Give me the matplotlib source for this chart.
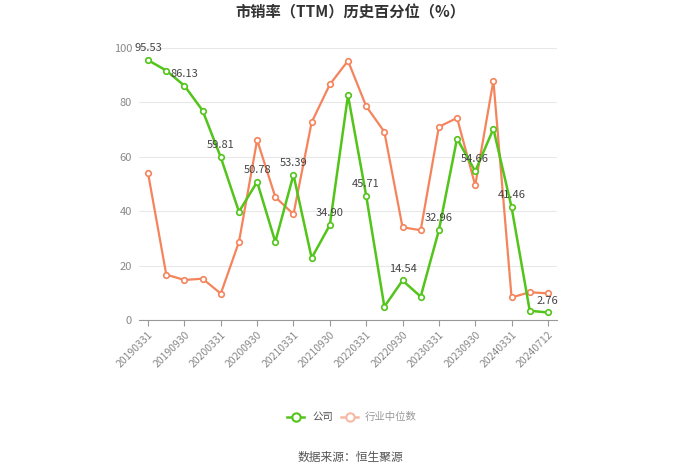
import numpy as np
import matplotlib.pyplot as plt

plt.rcParams['font.family'] = ['Noto Sans CJK SC', 'DejaVu Sans']

dates = ['20190331', '20190630', '20190930', '20191231', '20200331', '20200630',
         '20200930', '20201231', '20210331', '20210630', '20210930', '20211231',
         '20220331', '20220630', '20220930', '20221231', '20230331', '20230630',
         '20230930', '20231231', '20240331', '20240630', '20240712']

company = [95.53, 91.7, 86.13, 77.0, 59.81, 39.8, 50.78, 28.7, 53.39, 22.8,
           34.90, 82.6, 45.71, 4.9, 14.54, 8.6, 32.96, 66.7, 54.66, 70.3,
           41.46, 3.4, 2.76]
industry = [53.9, 16.7, 14.7, 15.2, 9.7, 28.7, 66.2, 45.2, 38.9, 72.7,
            86.6, 95.3, 78.6, 69.2, 34.1, 33.0, 71.0, 74.3, 49.5, 88.0,
            8.3, 10.2, 9.8]

green = '#52c41a'
orange = '#f5845c'
pale = '#f7b9a3'

fig = plt.figure(figsize=(7, 4.74), dpi=100)
ax = fig.add_axes([139 / 700, 154 / 474, 418 / 700, 272 / 474])

x = np.arange(len(dates))
ax.plot(x, industry, color=orange, lw=1.6, marker='o', ms=4,
        mfc='white', mec=orange, mew=1.2, zorder=3)
ax.plot(x, company, color=green, lw=1.8, marker='o', ms=4,
        mfc='white', mec=green, mew=1.2, zorder=4)

for i in range(0, len(dates), 2):
    ax.annotate(f'{company[i]:.2f}', (x[i], company[i]), xytext=(0, 5),
                textcoords='offset points', ha='center', va='bottom',
                fontsize=8, color='#444444', zorder=5)

ax.set_xlim(-0.5, len(dates) - 0.5)
ax.set_ylim(0, 100)
ax.set_yticks([0, 20, 40, 60, 80, 100])
ax.grid(axis='y', color='#e8e8e8', lw=0.8)
ax.set_axisbelow(True)

ax.set_xticks(x[::2])
ax.set_xticklabels(dates[::2], rotation=45, ha='right', rotation_mode='anchor')

for s in ['top', 'right', 'left']:
    ax.spines[s].set_visible(False)
ax.spines['bottom'].set_color('#999999')
ax.tick_params(axis='y', length=0, pad=5, labelsize=8, labelcolor='#888888')
ax.tick_params(axis='x', length=4, color='#999999', labelsize=7.5,
               labelcolor='#888888', pad=3)

fig.text(0.5, 1 - 12 / 474, '市销率（TTM）历史百分位（%）', ha='center', va='center',
         fontsize=11, fontweight='bold', color='#333333')

# legend
ly = 1 - 417 / 474
fig.lines.append(plt.Line2D([287 / 700, 304 / 700], [ly, ly], color=green, lw=1.8,
                            transform=fig.transFigure))
fig.lines.append(plt.Line2D([295.5 / 700], [ly], color=green, marker='o', ms=6,
                            mfc='white', mec=green, mew=1.5, transform=fig.transFigure))
fig.text(312 / 700, ly, '公司', ha='left', va='center', fontsize=7.5, color='#555555')
fig.lines.append(plt.Line2D([341 / 700, 358 / 700], [ly, ly], color=pale, lw=1.8,
                            transform=fig.transFigure))
fig.lines.append(plt.Line2D([349.5 / 700], [ly], color=pale, marker='o', ms=6,
                            mfc='white', mec=pale, mew=1.5, transform=fig.transFigure))
fig.text(365 / 700, ly, '行业中位数', ha='left', va='center', fontsize=7.5, color='#999999')

fig.text(0.5, 1 - 457 / 474, '数据来源：恒生聚源', ha='center', va='center',
         fontsize=8.5, color='#555555')

fig.savefig('out.png', dpi=100, facecolor='white')
